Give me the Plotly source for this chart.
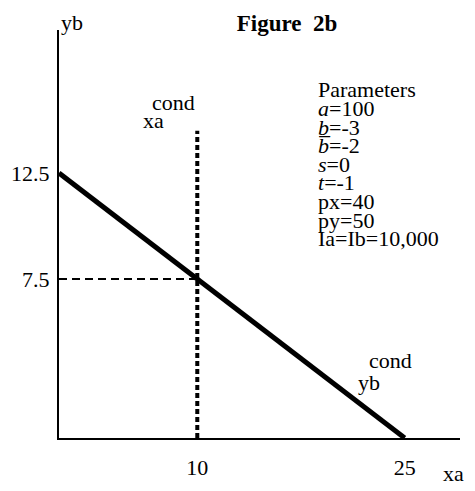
import plotly.graph_objects as go

# budget line (cond yb) and the conditional xa line
line_x = [0, 25]
line_y = [12.5, 0]
cond_xa_x = [10, 10]
cond_xa_y = [0, 14.5]
eq_x = 10
eq_y = 7.5

x_ticks = [10, 25]
y_ticks = [7.5, 12.5]

params = [
    "Parameters",
    "<i>a</i>=100",
    "<i>b</i>=-3",
    "<i>b\u0305</i>=-2",
    "<i>s</i>=0",
    "<i>t</i>=-1",
    "px=40",
    "py=50",
    "Ia=Ib=10,000",
]

serif = "Liberation Serif"
fnt = dict(family=serif, size=22, color="black")

# the page body has an 8px margin, so the figure is drawn 8px in
PAGE = 8


def main():
    fig = go.Figure()

    # dashed guide at yb = 7.5
    fig.add_trace(go.Scatter(
        x=[0, eq_x], y=[eq_y, eq_y], mode="lines",
        line=dict(color="black", width=2, dash="8px,5px"),
        hoverinfo="skip",
    ))
    # dotted conditional xa
    fig.add_trace(go.Scatter(
        x=cond_xa_x, y=cond_xa_y, mode="lines",
        line=dict(color="black", width=4, dash="5px,3px"),
        hoverinfo="skip",
    ))
    # conditional yb line
    fig.add_trace(go.Scatter(
        x=line_x, y=line_y, mode="lines",
        line=dict(color="black", width=5),
        hoverinfo="skip",
    ))

    ann = []
    # parameter block, tight line spacing as in the original
    for i, t in enumerate(params):
        ann.append(dict(x=18.6, y=16.42 - i * 0.877, text=t, xanchor="left",
                        yanchor="middle", showarrow=False, font=fnt))
    # line labels
    ann.append(dict(x=eq_x - 3.4, y=15.85, text="cond", xanchor="left",
                    showarrow=False, font=fnt))
    ann.append(dict(x=eq_x - 4.1, y=15.0, text="xa", xanchor="left",
                    showarrow=False, font=fnt))
    ann.append(dict(x=22.25, y=3.68, text="cond", xanchor="left",
                    showarrow=False, font=fnt))
    ann.append(dict(x=21.5, y=2.64, text="yb", xanchor="left",
                    showarrow=False, font=fnt))
    # axis names (outside the axis ranges, so in paper units)
    ann.append(dict(x=0.0, y=1.0 + (30 - PAGE) / 408, xref="paper",
                    yref="paper", text="yb", xanchor="left", yanchor="top",
                    showarrow=False, font=fnt))
    ann.append(dict(x=1.015, y=-0.088, xref="paper", yref="paper", text="xa",
                    xanchor="right", yanchor="middle", showarrow=False,
                    font=fnt))

    W, H = 475 - PAGE, 491 - PAGE
    fig.update_layout(
        width=W, height=H,
        margin=dict(l=59 - PAGE, r=15, t=30 - PAGE, b=53, autoexpand=False),
        plot_bgcolor="white", paper_bgcolor="white",
        showlegend=False,
        title=dict(text="<b>Figure  2b</b>", x=(287 - PAGE) / W,
                   xref="container", xanchor="center",
                   y=1 - (23 - PAGE) / H, yanchor="middle",
                   font=dict(family=serif, size=23, color="black")),
        annotations=ann,
        xaxis=dict(range=[0, 29], showgrid=False, zeroline=False,
                   showline=True, linecolor="black", linewidth=2,
                   tickvals=x_ticks, ticks="", ticklabelstandoff=9,
                   tickfont=fnt, fixedrange=True, automargin=False),
        yaxis=dict(range=[0, 19.25], showgrid=False, zeroline=False,
                   showline=True, linecolor="black", linewidth=2,
                   tickvals=y_ticks, ticks="", ticklabelstandoff=3,
                   tickfont=fnt, fixedrange=True, automargin=False),
    )
    fig.write_html("out.html")


if __name__ == "__main__":
    main()
